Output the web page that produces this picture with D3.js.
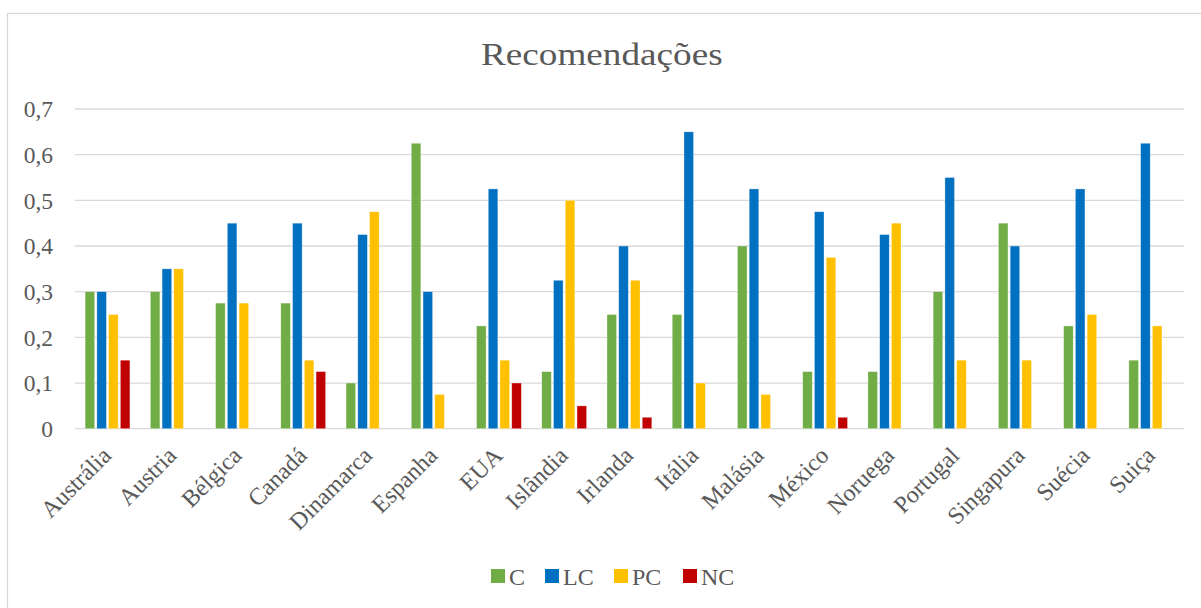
<!DOCTYPE html>
<html>
<head>
<meta charset="utf-8">
<script src="https://cdn.jsdelivr.net/npm/d3@7"></script>
<style>
  html, body { margin: 0; padding: 0; background: #fff; }
  svg { display: block; }
  text { font-family: "Liberation Serif", "Times New Roman", serif; fill: #595959; }
</style>
</head>
<body>
<svg id="chart" width="1201" height="608"></svg>
<script>
const categories = ["Austrália","Austria","Bélgica","Canadá","Dinamarca","Espanha","EUA","Islândia","Irlanda","Itália","Malásia","México","Noruega","Portugal","Singapura","Suécia","Suiça"];
const seriesNames = ["C","LC","PC","NC"];
const valuesC  = [0.3,  0.3,  0.275,0.275,0.1,  0.625,0.225,0.125,0.25, 0.25, 0.4,  0.125,0.125,0.3,  0.45, 0.225,0.15];
const valuesLC = [0.3,  0.35, 0.45, 0.45, 0.425,0.3,  0.525,0.325,0.4,  0.65, 0.525,0.475,0.425,0.55, 0.4,  0.525,0.625];
const valuesPC = [0.25, 0.35, 0.275,0.15, 0.475,0.075,0.15, 0.5,  0.325,0.1,  0.075,0.375,0.45, 0.15, 0.15, 0.25, 0.225];
const valuesNC = [0.15, 0,    0,    0.125,0,    0,    0.1,  0.05, 0.025,0,    0,    0.025,0,    0,    0,    0,    0];
const yTicks = [0, 0.1, 0.2, 0.3, 0.4, 0.5, 0.6, 0.7];
const title = "Recomendações";

const seriesValues = [valuesC, valuesLC, valuesPC, valuesNC];
const colors = ["#70AD47", "#0070C0", "#FFC000", "#C00000"];

const svg = d3.select("#chart");

// chart border
svg.append("rect").attr("x", 7.5).attr("y", 13.5).attr("width", 1220).attr("height", 620)
  .attr("fill", "none").attr("stroke", "#D9D9D9").attr("stroke-width", 1.3);

const plotL = 75, plotR = 1184, plotT = 109, plotB = 428.7;

const x0 = d3.scaleBand().domain(categories).range([plotL, plotR]).padding(0);
const x1 = d3.scaleBand().domain(seriesNames).range([0, x0.bandwidth()]).paddingInner(0).paddingOuter(0.776);
const y = d3.scaleLinear().domain([0, 0.7]).range([plotB, plotT]);

const fmt = d => d === 0 ? "0" : d.toFixed(1).replace(".", ",");

// gridlines
svg.append("g").selectAll("line").data(yTicks).join("line")
  .attr("x1", plotL).attr("x2", plotR)
  .attr("y1", d => y(d)).attr("y2", d => y(d))
  .attr("stroke", "#D9D9D9").attr("stroke-width", 1.3);

// y tick labels
svg.append("g").selectAll("text").data(yTicks).join("text")
  .attr("x", 53).attr("y", d => y(d) + 8.2)
  .attr("text-anchor", "end")
  .attr("font-size", 23.5)
  .text(fmt);

// bars
const groups = svg.append("g").selectAll("g").data(categories).join("g")
  .attr("transform", d => `translate(${x0(d)},0)`);
groups.selectAll("rect").data((c, i) => seriesNames.map((s, k) => ({ s, k, v: seriesValues[k][i] })).filter(d => d.v > 0))
  .join("rect")
  .attr("x", d => x1(d.s) + 1)
  .attr("width", x1.bandwidth() - 2.2)
  .attr("y", d => y(d.v))
  .attr("height", d => y(0) - y(d.v))
  .attr("fill", d => colors[d.k])
  .attr("stroke", "#ffffff").attr("stroke-opacity", 0.5).attr("stroke-width", 0.6);

// category labels
svg.append("g").selectAll("text").data(categories).join("text")
  .attr("transform", d => `translate(${x0(d) + x0.bandwidth() / 2 + 5},${457}) rotate(-45)`)
  .attr("text-anchor", "end")
  .attr("font-size", 24)
  .text(d => d);

// title
svg.append("text")
  .attr("transform", "translate(481,64.5) scale(1.2,1)")
  .attr("font-size", 31)
  .text(title);

// legend
const legendX = [491, 545, 614, 683];
const leg = svg.append("g").selectAll("g").data(seriesNames).join("g")
  .attr("transform", (d, i) => `translate(${legendX[i]},569)`);
leg.append("rect").attr("width", 14).attr("height", 14).attr("fill", (d, i) => colors[i]);
leg.append("text").attr("x", 18).attr("y", 15.5).attr("font-size", 24).text(d => d);
</script>
</body>
</html>
